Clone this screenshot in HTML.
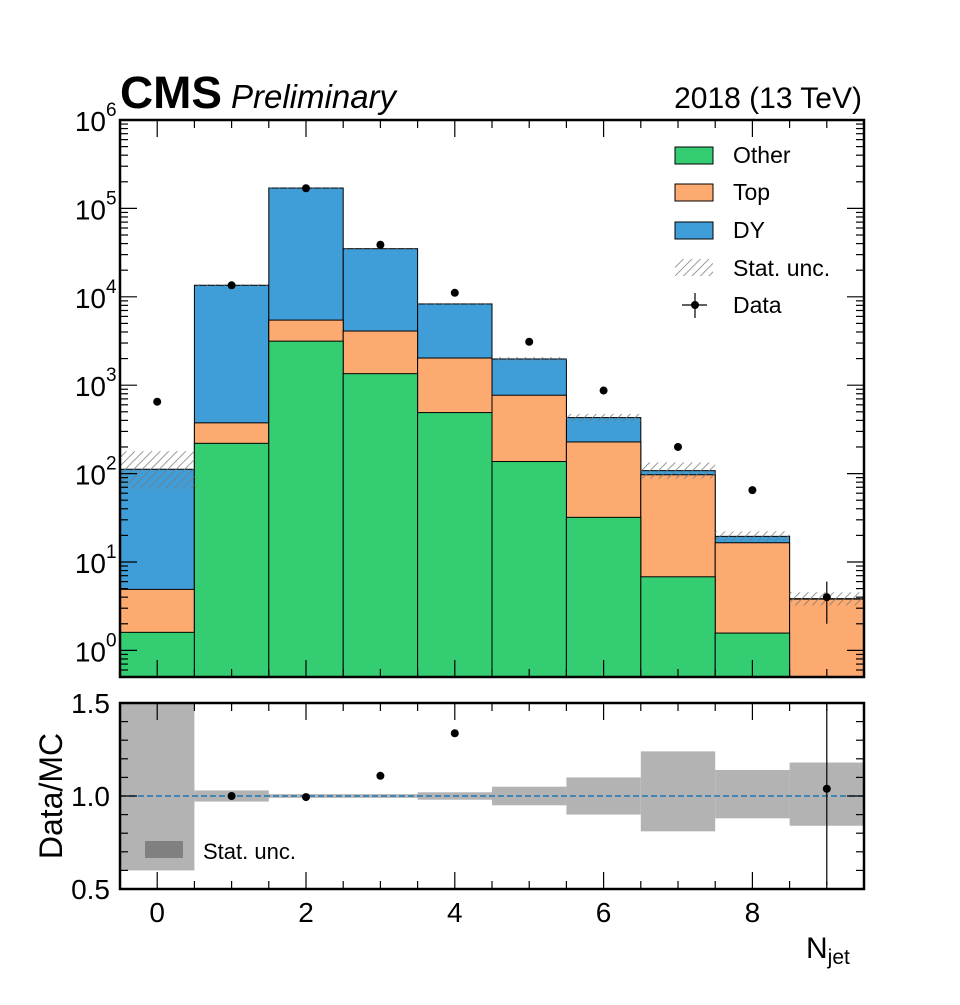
<!DOCTYPE html>
<html><head><meta charset="utf-8"><style>
body{margin:0;background:#fff;position:relative}
svg text{font-family:"Liberation Sans",sans-serif;fill:#000}
</style></head><body>
<svg id="c" width="960" height="1000" xmlns="http://www.w3.org/2000/svg">
<defs>
<pattern id="hatch" patternUnits="userSpaceOnUse" width="6" height="6" patternTransform="rotate(45)">
<line x1="0" y1="0" x2="0" y2="6" stroke="#777" stroke-width="1.5"/>
</pattern>
</defs>
<g id="plot"></g>
</svg>
<script>
const categories=[0,1,2,3,4,5,6,7,8,9];
const otherVals=[1.6,220,3150,1350,490,137,32,6.8,1.57,0];
const topCum=[4.9,375,5450,4100,2030,770,228,97,16.5,3.8];
const dyCum=[112,13500,170000,35000,8300,1980,430,108,19.5,3.85];
const dataVals=[650,13500,169000,38800,11100,3100,870,200,65,4];
const statUncUp=[0.6,0.03,0.01,0.01,0.02,0.05,0.1,0.24,0.14,0.18];
const statUncDn=[0.4,0.03,0.01,0.01,0.02,0.05,0.1,0.19,0.12,0.16];
const yTickExp=[0,1,2,3,4,5,6];
const xTickLabels=[0,2,4,6,8];
const ratioTicks=["0.5","1.0","1.5"];

const NS="http://www.w3.org/2000/svg";
const g=document.getElementById('plot');
const L=120,R=864,T=120,B=677,RT=703,RB=889;
const X=v=>L+(v+0.5)/10*(R-L);
const lmin=Math.log10(0.5),lmax=6;
const Y=v=>B-(Math.log10(v)-lmin)/(lmax-lmin)*(B-T);
const RY=v=>RB-(v-0.5)/1.0*(RB-RT);
function el(tag,attrs,parent){const e=document.createElementNS(NS,tag);for(const k in attrs)e.setAttribute(k,attrs[k]);(parent||g).appendChild(e);return e;}
function txt(x,y,s,attrs){const t=el('text',Object.assign({x:x,y:y},attrs||{}));t.textContent=s;return t;}

const cp=el('clipPath',{id:'clipTop'});el('rect',{x:L,y:T,width:R-L,height:B-T},cp);
const cp2=el('clipPath',{id:'clipR'});el('rect',{x:L,y:RT,width:R-L,height:RB-RT},cp2);
const gt=el('g',{'clip-path':'url(#clipTop)'});
const gr=el('g',{'clip-path':'url(#clipR)'});

function bars(arr,color,name){
  categories.forEach((c,i)=>{
    if(arr[i]<=0)return;
    const y=Y(arr[i]);
    const r=el('rect',{x:X(c-0.5),y:y,width:X(c+0.5)-X(c-0.5),height:B+2-y,fill:color,stroke:'#000','stroke-width':1},gt);
    
    
  });
}
bars(dyCum,'#3f9ed7','dy');
bars(topCum,'#fdaa70','top');
bars(otherVals,'#35cd72','other');
categories.forEach((c,i)=>{
  const t=dyCum[i];
  const y1=Y(t*(1+statUncUp[i])),y2=Y(t*(1-statUncDn[i]));
  const r=el('rect',{x:X(c-0.5),y:y1,width:X(c+0.5)-X(c-0.5),height:y2-y1,fill:'url(#hatch)'},gt);
  
  
});
categories.forEach((c,i)=>{
  const v=dataVals[i],e=Math.sqrt(v);
  if(v<50){el('line',{x1:X(c),x2:X(c),y1:Y(v+e),y2:Y(Math.max(v-e,0.6)),stroke:'#000','stroke-width':1.2},gt);}
  const p=el('circle',{cx:X(c),cy:Y(v),r:4,fill:'#000'},gt);
  
  
});
categories.forEach((c,i)=>{
  const r=el('rect',{x:X(c-0.5),y:RY(1+statUncUp[i]),width:X(c+0.5)-X(c-0.5),height:RY(1-statUncDn[i])-RY(1+statUncUp[i]),fill:'#b3b3b3'},gr);
  
  
});
el('line',{x1:L,x2:R,y1:RY(1),y2:RY(1),stroke:'#1f77b4','stroke-width':1.5,'stroke-dasharray':'6,3'},gr);
categories.forEach((c,i)=>{
  const rt=dataVals[i]/dyCum[i],re=Math.sqrt(dataVals[i])/dyCum[i];
  if(re>0.05)el('line',{x1:X(c),x2:X(c),y1:RY(rt+re),y2:RY(rt-re),stroke:'#000','stroke-width':1.2},gr);
  const p=el('circle',{cx:X(c),cy:RY(rt),r:4,fill:'#000'},gr);
  
  
});
el('rect',{x:L,y:T,width:R-L,height:B-T,fill:'none',stroke:'#000','stroke-width':2.5});
el('rect',{x:L,y:RT,width:R-L,height:RB-RT,fill:'none',stroke:'#000','stroke-width':2.5});
for(let e=-1;e<=6;e++){for(let m=1;m<10;m++){const v=m*Math.pow(10,e);if(v<0.5||v>1e6)continue;const y=Y(v);const len=m==1?17:8;
  el('line',{x1:L,x2:L+len,y1:y,y2:y,stroke:'#000','stroke-width':1.2});el('line',{x1:R,x2:R-len,y1:y,y2:y,stroke:'#000','stroke-width':1.2});}}
yTickExp.forEach(e=>{const t=txt(106,Y(Math.pow(10,e))+11,'10',{'font-size':28,'text-anchor':'end'});
  
  txt(106,Y(Math.pow(10,e))-4,String(e),{'font-size':19,'text-anchor':'start'});});
for(let v=-0.5;v<=9.5;v+=0.5){const maj=Math.abs(v%2)<1e-9;const len=maj?17:8;const x=X(v);
  [[B,-1],[T,1],[RB,-1],[RT,1]].forEach(([y0,d])=>el('line',{x1:x,x2:x,y1:y0,y2:y0+d*len,stroke:'#000','stroke-width':1.2}));}
xTickLabels.forEach(v=>{const t=txt(X(v),922,String(v),{'font-size':28,'text-anchor':'middle'});
  });
for(let v=0.5;v<=1.5001;v+=0.1){const k=Math.round(v*10);const maj=k%5==0;const len=maj?17:8;const y=RY(v);
  el('line',{x1:L,x2:L+len,y1:y,y2:y,stroke:'#000','stroke-width':1.2});el('line',{x1:R,x2:R-len,y1:y,y2:y,stroke:'#000','stroke-width':1.2});}
ratioTicks.forEach(s=>{const t=txt(110,RY(parseFloat(s))+10,s,{'font-size':28,'text-anchor':'end'});
  });
</script>
<svg style="position:absolute;left:0;top:0" width="960" height="1000" xmlns="http://www.w3.org/2000/svg">
<text x="120" y="108" font-family="Liberation Sans" font-weight="bold" font-size="45" textLength="102" lengthAdjust="spacingAndGlyphs">CMS</text>
<text x="231" y="108" font-family="Liberation Sans" font-style="italic" font-size="33">Preliminary</text>
<text x="862" y="108" font-family="Liberation Sans" font-size="30" text-anchor="end">2018 (13 TeV)</text>
<g font-family="Liberation Sans" font-size="23">
<rect x="675" y="147" width="38" height="17" fill="#35cd72" stroke="#000"/><text x="733" y="163">Other</text>
<rect x="675" y="184" width="38" height="17" fill="#fdaa70" stroke="#000"/><text x="733" y="200">Top</text>
<rect x="675" y="222" width="38" height="17" fill="#3f9ed7" stroke="#000"/><text x="733" y="238">DY</text>
<rect x="675" y="259" width="38" height="17" fill="url(#hatch)"/><text x="733" y="276">Stat. unc.</text>
<line x1="682" x2="707" y1="305" y2="305" stroke="#000" stroke-width="1.2"/><line x1="695" x2="695" y1="293" y2="318" stroke="#000" stroke-width="1.2"/><circle cx="695" cy="305" r="4"/><text x="733" y="313">Data</text>
</g>
<g><rect x="145" y="841" width="38" height="17" fill="#808080"/><text x="203" y="859" font-family="Liberation Sans" font-size="22">Stat. unc.</text></g>
<text transform="translate(62,796) rotate(-90)" font-family="Liberation Sans" font-size="32" text-anchor="middle">Data/MC</text>
<text x="806" y="958" font-family="Liberation Serif" font-size="30">N<tspan font-size="21" dy="6">jet</tspan></text>
</svg>
</body></html>
